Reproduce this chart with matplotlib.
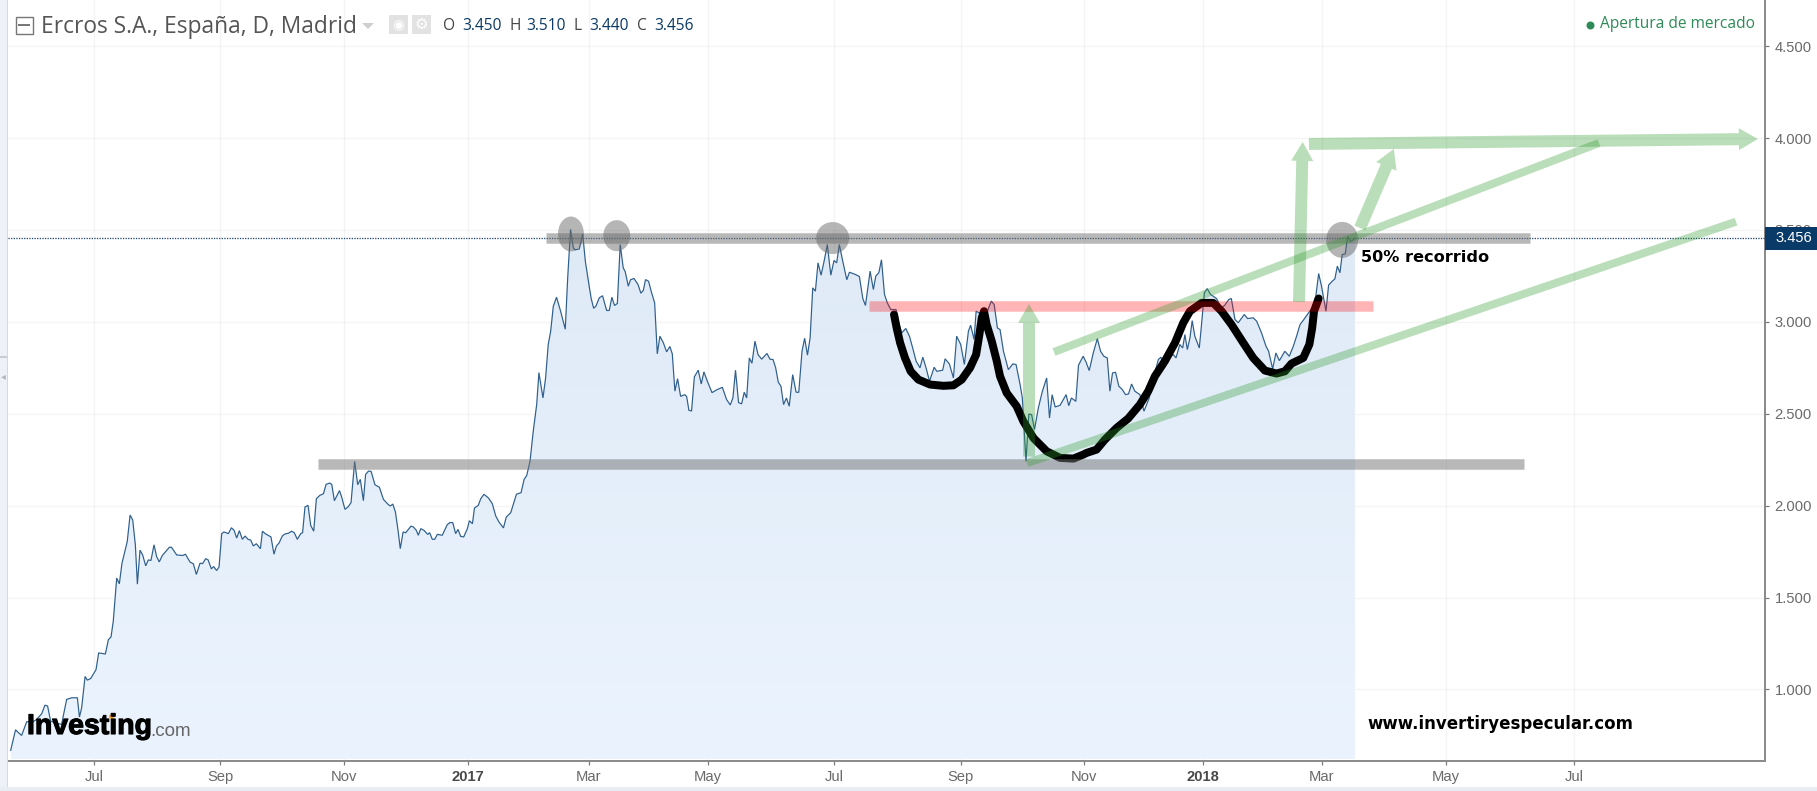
import numpy as np
import matplotlib
matplotlib.use("Agg")
import matplotlib.pyplot as plt
import matplotlib.patheffects as pe
from matplotlib.patches import Ellipse, Rectangle, FancyArrowPatch, Polygon
from matplotlib.colors import LinearSegmentedColormap

# ---------- data ----------
days = [
-41.1,-38.7,-37.3,-35.7,-33.2,-30.4,-28.3,-25.8,-24.2,-22.9,-21.4,-19.2,-16.0,-13.5,-11.0,-8.2,-7.2,-6.1,-4.4,-3.3,-1.6,
1.0,2.3,5.6,7.1,8.4,9.5,11.2,12.5,13.8,16.4,17.8,19.1,20.4,21.4,22.7,24.0,25.5,26.8,28.1,29.6,30.9,32.2,33.7,37.2,38.2,
40.8,43.8,45.1,47.4,49.0,50.5,52.3,53.6,55.1,56.3,57.9,59.0,60.5,
61.7,63,64.1,66.3,67.8,69.1,70.4,71.7,73.2,74.5,76.0,77.3,78.6,80.1,82.1,83.1,84.7,87.3,88.8,90.0,91.3,92.9,94.2,95.9,97.5,98.8,
100.3,102.0,102.9,104.1,105.6,106.9,108.4,109.7,111.4,113.2,114.5,116.3,117.3,118.6,121.1,122.2,123.8,125.3,126.8,128.6,130.1,
131.4,132.9,134.0,135.4,136.7,138.6,140.8,142.8,145.1,146.2,147.4,148.7,150.0,151.1,152.5,153.8,156.4,157.6,159.0,160.0,161.2,
162.8,164.6,165.6,166.9,168.1,169.4,171.8,174.3,175.6,177.0,178.4,179.6,180.9,182.4,184.2,185.2,186.7,187.7,189.6,190.8,192.4,
194.6,196.5,198.2,199.8,202.0,203.4,205.6,208.4,210.7,212.2,213.5,
215.1,216.7,218.4,219.5,221.5,222.8,224.1,225.3,226.6,228.2,230.2,232.5,233.7,235.1,236.5,237.3,239.4,241.1,242.4,244.3,245.3,
246.5,247.6,249.3,250.9,252.9,254.2,255.5,256.8,258.2,259.6,261.1,262.1,263.6,264.7,266.4,268.4,269.8,271.0,272.1,273.6,275.1,
276.6,277.9,279.2,280.9,282.5,284.1,285.3,286.6,287.9,289.4,291.5,292.4,293.5,294.8,296.2,298.1,299.6,300.9,302.6,304.9,307.2,
310.0,312.1,313.9,315.2,316.5,318.0,319.5,320.8,322.0,323.3,324.6,326.1,327.6,329.4,332.0,333.5,335.0,336.3,337.6,338.9,340.2,
341.6,343.0,
344.7,346.4,347.7,349.3,350.6,352.0,353.3,354.6,355.9,357.2,358.7,360.2,361.8,363.5,365.1,366.4,367.7,369.4,371.4,372.7,375.6,
377.6,379.3,380.6,382.9,384.5,385.7,387.2,388.5,390.0,391.4,393.1,395.7,397.0,398.5,400.5,402.3,403.9,405.6,407.5,408.9,410.5,
412.2,414.5,415.8,418.7,419.9,422.0,424.0,425.6,427.6,429.4,431.4,432.5,434.2,435.2,438.0,440.4,442.7,444.1,445.7,447.0,448.7,
451.1,453.3,454.9,456.9,458.0,459.8,461.2,462.6,464.0,465.9,467.9,470.0,471.4,472.7,474.2,476.6,479.6,480.9,482.2,484.4,485.7,
488.0,489.4,491.0,493.0,495.0,496.6,498.2,499.9,501.2,502.5,504.0,505.6,507.3,508.9,510.4,511.9,513.5,516.0,518.0,520.6,522.9,
525.1,526.4,528.0,530.0,532.5,533.8,535.7,537.1,538.2,539.4,540.7,541.8,543.1,545.3,546.4,547.8,549.2,550.9,553.8,556.3,557.9,
559.9,561.1,562.9,564.5,567.5,569.1,571.9,573.6,576.0,578.2,579.5,581.5,583.1,584.8,587.5,589.7,591.7,593.3,595.0,596.9,599.2,
601.0,602.8,604.2,605.6,607.8,609.1,610.6,612.2,613.4,614.7,615.8,617.3,618.5,620.0,622.1]
close = [
0.669,0.781,0.765,0.750,0.825,0.823,0.837,0.868,0.915,0.910,0.828,0.819,0.810,0.946,0.955,0.955,0.850,0.900,1.071,1.051,1.060,
1.108,1.199,1.193,1.271,1.286,1.371,1.606,1.575,1.687,1.805,1.949,1.922,1.787,1.573,1.758,1.732,1.673,1.705,1.702,1.787,1.723,1.694,1.729,1.774,1.774,
1.732,1.729,1.736,1.693,1.684,1.626,1.687,1.685,1.712,1.705,1.656,1.669,1.647,
1.667,1.848,1.857,1.848,1.880,1.866,1.824,1.864,1.817,1.835,1.817,1.813,1.781,1.793,1.766,1.861,1.846,1.830,1.736,1.781,1.797,1.835,1.846,1.850,1.861,1.853,
1.817,1.848,1.853,1.993,2.002,1.893,1.861,2.038,2.056,2.065,2.116,2.123,2.116,2.027,2.082,2.047,1.980,1.993,2.016,2.241,2.114,
2.143,2.027,2.170,2.188,2.187,2.114,2.100,2.034,2.007,1.998,2.009,1.966,1.866,1.766,1.857,1.853,1.889,1.884,1.866,1.839,1.875,
1.866,1.844,1.853,1.817,1.817,1.844,1.839,1.897,1.908,1.908,1.848,1.871,1.833,1.830,1.875,1.918,1.902,1.987,2.002,2.038,2.062,
2.042,2.011,1.944,1.911,1.879,1.938,1.962,2.062,2.071,2.143,2.165,
2.241,2.405,2.550,2.724,2.586,2.695,2.877,2.949,3.085,3.134,3.058,2.960,3.240,3.503,3.403,3.392,3.396,3.479,3.330,3.194,3.127,
3.074,3.085,3.131,3.142,3.062,3.062,3.134,3.089,3.100,3.421,3.294,3.272,3.194,3.229,3.236,3.203,3.156,3.171,3.230,3.221,3.158,
3.103,2.826,2.922,2.886,2.837,2.866,2.826,2.623,2.691,2.595,2.604,2.593,2.519,2.515,2.701,2.737,2.662,2.728,2.677,2.615,2.630,
2.644,2.577,2.548,2.586,2.737,2.561,2.554,2.617,2.586,2.804,2.775,2.895,2.822,2.797,2.828,2.797,2.795,2.750,2.672,2.650,2.550,
2.586,2.541,
2.713,2.617,2.617,2.840,2.911,2.819,2.913,3.185,3.167,3.321,3.254,3.330,3.421,3.254,3.334,3.321,3.421,3.330,3.229,3.270,3.258,
3.247,3.127,3.089,3.276,3.176,3.249,3.267,3.338,3.149,3.103,3.067,3.067,2.995,2.940,2.964,2.922,2.858,2.786,2.750,2.808,2.750,
2.677,2.753,2.731,2.737,2.799,2.771,2.695,2.922,2.877,2.768,2.949,2.982,2.904,3.058,3.040,3.049,3.113,3.094,2.967,2.958,2.840,
2.740,2.771,2.768,2.659,2.586,2.241,2.499,2.495,2.414,2.532,2.623,2.695,2.477,2.604,2.537,2.546,2.604,2.544,2.586,2.568,2.764,
2.813,2.782,2.735,2.831,2.909,2.840,2.813,2.804,2.623,2.722,2.726,2.650,2.632,2.604,2.608,2.662,2.623,2.604,2.514,2.586,2.704,
2.795,2.808,2.750,2.804,2.822,2.804,2.877,2.858,2.931,2.849,2.913,3.007,2.922,2.858,2.985,3.158,3.181,3.149,3.127,3.076,3.091,
3.122,3.127,3.013,2.995,3.040,3.018,3.022,3.004,2.940,2.868,2.840,2.744,2.831,2.789,2.840,2.813,2.868,2.922,2.985,3.013,3.049,
3.076,3.140,3.263,3.194,3.058,3.200,3.218,3.234,3.303,3.267,3.367,3.370,3.465,3.436,3.456]

curve_days = [394.7,396.0,397.7,400.1,402.9,406.7,412.5,419.1,424.0,428.1,432.2,435.2,436.8,438.0,439.1,440.4,442.9,445.4,447.0,450.3,
455.2,458.5,463.5,470.0,476.6,483.2,488.1,489.7,494.6,498.7,504.5,510.2,516.0,520.1,523.4,528.3,533.3,537.4,540.7,546.4,552.2,
556.3,561.2,567.0,571.9,577.7,583.4,587.5,590.8,596.6,599.6,601.0,601.9,604.2]
curve_vals = [3.040,2.967,2.886,2.804,2.731,2.686,2.659,2.652,2.655,2.686,2.750,2.822,2.931,3.022,3.058,2.985,2.895,2.786,2.704,2.613,
2.541,2.459,2.368,2.296,2.260,2.256,2.278,2.287,2.305,2.359,2.423,2.474,2.550,2.623,2.704,2.786,2.886,2.995,3.058,3.103,3.103,
3.058,2.985,2.886,2.804,2.735,2.719,2.731,2.773,2.804,2.877,2.967,3.058,3.127]

ytick_vals = [1.0, 1.5, 2.0, 2.5, 3.0, 3.5, 4.0, 4.5]
ytick_labels = ["1.000", "1.500", "2.000", "2.500", "3.000", "3.500", "4.000", "4.500"]
xtick_days = [0, 62.2, 123.3, 184.5, 244.2, 302.9, 365.1, 427.7, 488.4, 547.1, 605.8, 667.0, 730.1]
xtick_labels = ["Jul", "Sep", "Nov", "2017", "Mar", "May", "Jul", "Sep", "Nov", "2018", "Mar", "May", "Jul"]
last_close = 3.456

# (from_day, to_day, level)
grey_bands = [(223.0, 708.4, 3.456), (110.5, 705.5, 2.227)]
red_band = (382.5, 631.0, 3.087)
# (centre_day, centre_value, width_days, height_value)
grey_ellipses = [(235.3, 3.478, 12.8, 0.19), (257.9, 3.469, 13.3, 0.169),
                 (364.4, 3.456, 16.3, 0.174), (615.8, 3.446, 15.8, 0.196)]
trend_lines = [((460.3, 2.232), (810.1, 3.545)), ((473.6, 2.836), (742.5, 3.973))]
arrows = [((461.3, 2.267), (461.3, 3.097)), ((594.5, 3.108), (596.3, 3.979)),
          ((599.4, 3.968), (820.9, 3.995)), ((624.6, 3.511), (641.3, 3.941))]

# ---------- layout ----------
W, H = 1817, 791
fig = plt.figure(figsize=(W / 100, H / 100), dpi=100, facecolor="white")
plt.rcParams["font.family"] = ["Liberation Sans", "DejaVu Sans"]
ax = fig.add_axes([8 / W, (H - 761) / H, (1765 - 8) / W, 761 / H])
ax.set_xlim(-42.43, 824.4)
ax.set_ylim(0.611, 4.751)
PX = 0.72  # points per pixel at dpi 100

def fx(x):
    return x / W

def fy(y):
    return 1 - y / H

for s in ("top", "left"):
    ax.spines[s].set_visible(False)
for s in ("right", "bottom"):
    ax.spines[s].set_color("#8c8c8c")
    ax.spines[s].set_linewidth(2 * PX)
ax.yaxis.tick_right()
ax.set_yticks(ytick_vals, ytick_labels)
ax.set_xticks(xtick_days, xtick_labels)
ax.tick_params(axis="both", length=4 * PX, width=1.2 * PX, color="#777777",
               labelcolor="#6a6a6a", labelsize=10.6)
ax.tick_params(axis="y", pad=5.5 * PX)
ax.tick_params(axis="x", pad=5 * PX)
for lab, txt in zip(ax.get_xticklabels(), xtick_labels):
    if txt.isdigit():
        lab.set_fontweight("bold")
        lab.set_color("#4a4a4a")
ax.set_axisbelow(True)
ax.grid(True, color="#000000", alpha=0.045, linewidth=1.4 * PX)

# ---------- area and line ----------
base = 0.622
poly = Polygon(list(zip(days, close)) + [(days[-1], base), (days[0], base)], closed=True,
               transform=ax.transData, facecolor="none", edgecolor="none")
ax.add_patch(poly)
cmap = LinearSegmentedColormap.from_list("area", ["#ebf4fe", "#dfeaf7"])
im = ax.imshow(np.linspace(0, 1, 256).reshape(-1, 1), cmap=cmap, origin="lower", aspect="auto",
               extent=(days[0], days[-1], base, 3.52), zorder=1)
im.set_clip_path(poly)
ax.set_xlim(-42.43, 824.4)
ax.set_ylim(0.611, 4.751)
ax.plot(days, close, color="#2f5f8c", lw=1.2 * PX, zorder=3, solid_joinstyle="miter")
ax.axhline(last_close, color="#1f4a78", lw=1.3 * PX, ls=(0, (1, 1)), zorder=3.2)

# ---------- hand drawn overlays ----------
ax.plot(curve_days, curve_vals, color="black", lw=8 * PX, zorder=4,
        solid_capstyle="round", solid_joinstyle="round")
for x0, x1, lv in grey_bands:
    ax.plot([x0, x1], [lv, lv], color="#737373", alpha=0.5, lw=10.5 * PX, solid_capstyle="butt", zorder=5)
ax.plot(red_band[:2], [red_band[2]] * 2, color="#ff0000", alpha=0.29, lw=10.5 * PX,
        solid_capstyle="butt", zorder=5)
for cx, cy, w, h in grey_ellipses:
    ax.add_patch(Ellipse((cx, cy), w, h, facecolor="#666666", alpha=0.48, edgecolor="none", zorder=5.2))
GREEN = "#2e9a2e"
for p0, p1 in trend_lines:
    ax.plot([p0[0], p1[0]], [p0[1], p1[1]], color=GREEN, alpha=0.33, lw=8 * PX, solid_capstyle="butt", zorder=5.4)
for p0, p1 in arrows:
    ax.add_patch(FancyArrowPatch(p0, p1, arrowstyle="simple,head_length=%.2f,head_width=%.2f,tail_width=%.2f"
                                 % (19 * PX, 22 * PX, 12 * PX),
                                 mutation_scale=1, shrinkA=0, shrinkB=0, lw=0,
                                 facecolor=GREEN, alpha=0.33, zorder=5.4))

# ---------- last price tag ----------
tag_tr = ax.get_yaxis_transform()
ax.add_patch(Rectangle((1.0, last_close - 0.0625), 52 / 1757, 0.12, transform=tag_tr, facecolor="#0a3a68",
                       edgecolor="none", clip_on=False, zorder=10))
fig.text(fx(1775), fy(238), "3.456", color="white", fontsize=10.6, va="center", ha="left", zorder=11)

# ---------- page furniture ----------
fig.patches.append(Rectangle((0, 0), fx(6.5), 1, transform=fig.transFigure, facecolor="#eef1f7", edgecolor="none"))
fig.patches.append(Rectangle((fx(6.5), 0), fx(1.2), 1, transform=fig.transFigure, facecolor="#d5d8dd", edgecolor="none"))
fig.patches.append(Rectangle((0, 0), 1, (H - 787) / H, transform=fig.transFigure, facecolor="#e8ecf3", edgecolor="none"))
fig.patches.append(Rectangle((0, fy(357.5)), fx(7), 1 / H, transform=fig.transFigure, facecolor="#c9ccd2", edgecolor="none"))
fig.text(fx(3), fy(376), "◂", color="#b5b8bd", fontsize=7, ha="center", va="center", family="DejaVu Sans")

fig.patches.append(Rectangle((fx(15.5), fy(33.5)), 17 / W, 17 / H, transform=fig.transFigure, facecolor="white",
                             edgecolor="#777777", linewidth=1.4 * PX))
fig.patches.append(Rectangle((fx(18), fy(25.5)), 12 / W, 1.4 / H, transform=fig.transFigure, facecolor="#777777", edgecolor="none"))
fig.text(fx(41), fy(27), "Ercros S.A., España, D, Madrid", color="#555555", fontsize=16.4, va="center",
         family="Open Sans")
fig.patches.append(Polygon([(fx(362), fy(23)), (fx(374), fy(23)), (fx(368), fy(29))], closed=True,
                           transform=fig.transFigure, facecolor="#cfcfcf", edgecolor="none"))
for x0 in (389, 412):
    fig.patches.append(Rectangle((fx(x0), fy(34)), 19 / W, 19 / H, transform=fig.transFigure, facecolor="#e2e2e2", edgecolor="none"))
fig.text(fx(398.5), fy(24.5), "◉", color="white", fontsize=10, ha="center", va="center", family="DejaVu Sans")
fig.text(fx(421.5), fy(24.5), "⚙", color="white", fontsize=11, ha="center", va="center", family="DejaVu Sans")

ohlc = [(443, "O", "#444444"), (462, "3.450", "#0b3a66"), (509, "H", "#444444"), (526.5, "3.510", "#0b3a66"),
        (573.5, "L", "#444444"), (589, "3.440", "#0b3a66"), (637, "C", "#444444"), (654, "3.456", "#0b3a66")]
for x0, t, c in ohlc:
    fig.text(fx(x0), fy(26.5), t, color=c, fontsize=11.2, va="center", family="Open Sans")

ax.plot([(1590 - 8) / 1757], [1 - 25 / 761], transform=ax.transAxes, marker="o", ms=8 * PX, color="#2e8b57",
        mec="none", clip_on=False, zorder=8)
fig.text(fx(1600), fy(24), "Apertura de mercado", color="#2e8b57", fontsize=11.2, va="center", family="Open Sans")

# ---------- annotations and logos ----------
fig.text(fx(1361), fy(257), "50% recorrido", color="black", fontsize=11.6, fontweight="bold", va="center",
         family="DejaVu Sans", zorder=12)
fig.text(fx(1367), fy(724), "www.invertiryespecular.com", color="black", fontsize=12, fontweight="bold",
         va="center", family="DejaVu Sans", zorder=12)
fig.text(fx(27), fy(727), "Investing", color="black", fontsize=20.5, fontweight="bold", va="center", zorder=12,
         path_effects=[pe.withStroke(linewidth=0.8, foreground="black")])
fig.text(fx(150), fy(731), ".com", color="#666666", fontsize=13.6, va="center", zorder=12)
ax.plot([(111 - 8) / 1757], [(761 - 716) / 761], transform=ax.transAxes, marker="o", ms=5 * PX, color="#f5a623",
        mec="none", clip_on=False, zorder=12)

fig.savefig("out.png", dpi=100, facecolor="white")
